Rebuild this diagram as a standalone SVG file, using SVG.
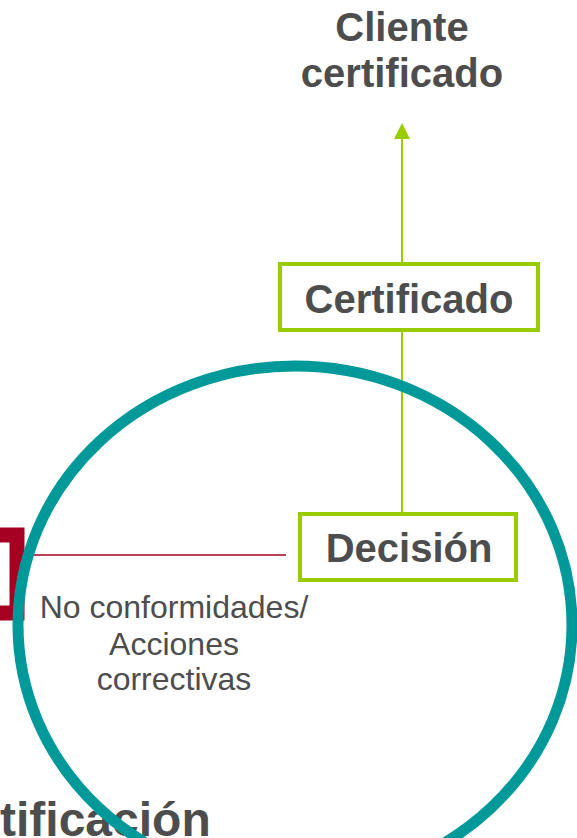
<svg xmlns="http://www.w3.org/2000/svg" width="577" height="838" viewBox="0 0 577 838">
<style>
.bold{font-family:"Liberation Sans",Arial,sans-serif;font-weight:bold;fill:#4D4D4D;font-size:40px;text-anchor:middle}
.reg{font-family:"Liberation Sans",Arial,sans-serif;fill:#4D4D4D;font-size:32px;text-anchor:middle}
.box{fill:#FFFFFF;stroke:#99CC00;stroke-width:4}
.gline{stroke:#99CC00;stroke-width:2;fill:none}
</style>
<g id="red-bracket">
<rect x="-100" y="535" width="117" height="78" fill="none" stroke="#A50021" stroke-width="15"/>
</g>
<g id="connectors">
<line x1="20" y1="555" x2="286" y2="555" stroke="#A50021" stroke-width="1.6"/>
<line class="gline" x1="402" y1="512" x2="402" y2="332"/>
<line class="gline" x1="402" y1="262" x2="402" y2="139"/>
<path d="M394,139 L402,123 L410,139 Z" fill="#99CC00"/>
</g>
<g id="cliente">
<text class="bold" x="402" y="41">Cliente</text>
<text class="bold" x="402" y="87">certificado</text>
</g>
<g id="certificado">
<rect class="box" x="280" y="264" width="258" height="66"/>
<text class="bold" x="409" y="313">Certificado</text>
</g>
<g id="decision">
<rect class="box" x="300" y="514" width="216" height="66"/>
<text class="bold" x="409" y="562">Decisión</text>
</g>
<g id="nc-label">
<text class="reg" x="174" y="618">No conformidades/</text>
<text class="reg" x="174" y="655">Acciones</text>
<text class="reg" x="174" y="690">correctivas</text>
</g>
<g id="certificacion">
<text class="bold" x="0" y="836" style="text-anchor:start;font-size:48px">tificación</text>
</g>
<g id="cycle">
<ellipse cx="295" cy="625" rx="277" ry="259" fill="none" stroke="#009999" stroke-width="11"/>
</g>
</svg>
